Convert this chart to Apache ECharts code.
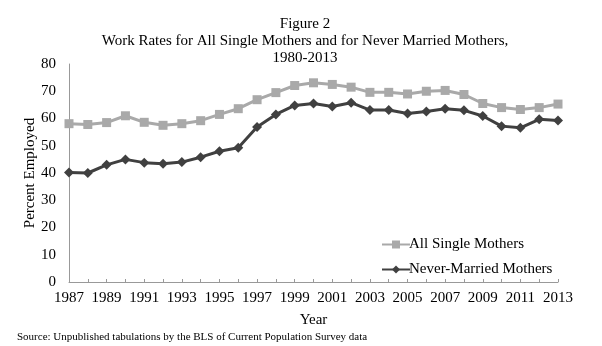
<!DOCTYPE html>
<html>
<head>
<meta charset="utf-8">
<script src="https://cdn.jsdelivr.net/npm/echarts@6/dist/echarts.min.js"></script>
<style>html,body{margin:0;padding:0;background:#fff}#c{width:602px;height:346px}</style>
</head>
<body>
<div id="c"></div>
<script>
const years = ['1987','1988','1989','1990','1991','1992','1993','1994','1995','1996','1997','1998','1999','2000','2001','2002','2003','2004','2005','2006','2007','2008','2009','2010','2011','2012','2013'];
const allSingleMothers = [58.1,57.8,58.5,61.0,58.6,57.5,58.1,59.2,61.5,63.6,66.9,69.5,72.1,73.1,72.5,71.5,69.6,69.6,69.0,70.0,70.3,68.8,65.5,64.0,63.3,64.0,65.3];
const neverMarriedMothers = [40.2,40.0,43.0,45.0,43.8,43.4,44.0,45.8,48.0,49.3,56.9,61.5,64.8,65.5,64.4,65.8,63.1,63.1,61.8,62.6,63.6,63.0,60.9,57.2,56.6,59.7,59.3];
const titleLines = ['Figure 2','Work Rates for All Single Mothers and for Never Married Mothers,','1980-2013'];
const sourceText = 'Source: Unpublished tabulations by the BLS of Current Population Survey data';

const serif = '"Liberation Serif", "DejaVu Serif", serif';
const chart = echarts.init(document.getElementById('c'));
chart.setOption({
  animation: false,
  backgroundColor: '#fff',
  title: [{
    text: titleLines.join('\n'),
    left: 300, top: 11, textAlign: 'center',
    textStyle: {fontFamily: serif, fontSize: 15, fontWeight: 'normal', color: '#000', lineHeight: 17}
  }, {
    text: sourceText,
    left: 12, top: 327,
    textStyle: {fontFamily: serif, fontSize: 11, fontWeight: 'normal', color: '#000'}
  }],
  grid: {left: 69, right: 44, top: 64, bottom: 64},
  legend: {
    orient: 'vertical', left: 376, top: 232, itemGap: 10,
    itemWidth: 28, itemHeight: 10,
    textStyle: {fontFamily: serif, fontSize: 15, color: '#000', padding: [0,0,0,-6]},
    data: ['All Single Mothers','Never-Married Mothers']
  },
  xAxis: {
    type: 'category', data: years, boundaryGap: false,
    name: 'Year', nameLocation: 'middle', nameGap: 31,
    nameTextStyle: {fontFamily: serif, fontSize: 15, color: '#000'},
    axisLine: {lineStyle: {color: '#999', width: 1}},
    axisTick: {show: true, inside: true, length: 3, interval: 0, lineStyle: {color: '#999'}},
    axisLabel: {interval: 1, fontFamily: serif, fontSize: 15, color: '#000', margin: 9},
    splitLine: {show: false}
  },
  yAxis: {
    type: 'value', min: 0, max: 80, interval: 10,
    name: 'Percent Employed', nameLocation: 'middle', nameGap: 31, nameMoveOverlap: false,
    nameTextStyle: {fontFamily: serif, fontSize: 15, color: '#000'},
    axisLine: {show: true, lineStyle: {color: '#999', width: 1}},
    axisTick: {show: false},
    axisLabel: {fontFamily: serif, fontSize: 15, color: '#000', margin: 13},
    splitLine: {show: false}
  },
  series: [{
    name: 'All Single Mothers', type: 'line', data: allSingleMothers,
    symbol: 'rect', symbolSize: 9,
    lineStyle: {color: '#a9a9a9', width: 3},
    itemStyle: {color: '#a9a9a9'}
  }, {
    name: 'Never-Married Mothers', type: 'line', data: neverMarriedMothers,
    symbol: 'diamond', symbolSize: 10,
    lineStyle: {color: '#404040', width: 3},
    itemStyle: {color: '#404040'}
  }]
});
</script>
</body>
</html>
